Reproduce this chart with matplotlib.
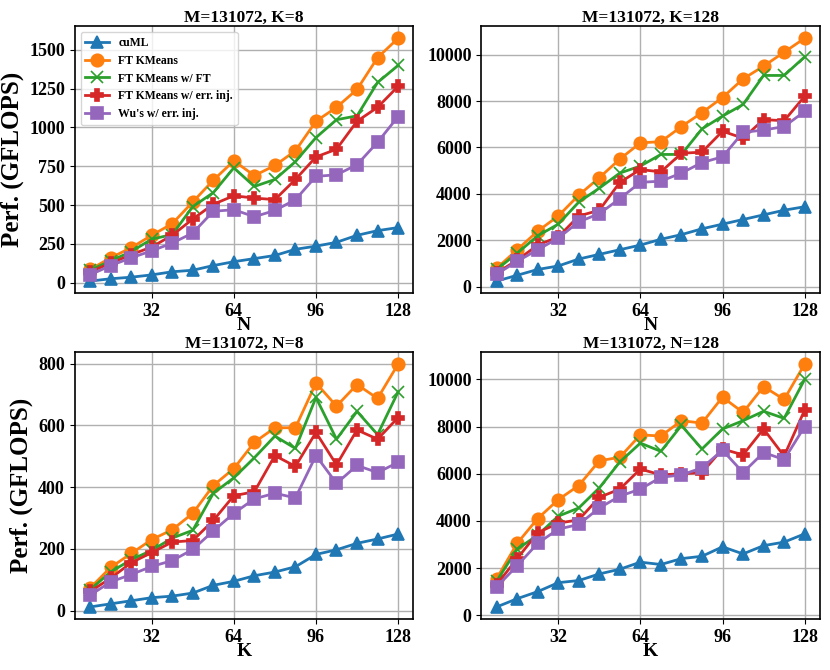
import matplotlib
matplotlib.use("Agg")
import matplotlib.pyplot as plt

plt.rcParams.update(
    {
        "font.family": ["Liberation Serif", "DejaVu Serif"],
        "font.weight": "bold",
        "axes.labelweight": "bold",
        "axes.titleweight": "bold",
        "xtick.labelsize": 13,
        "ytick.labelsize": 13,
    }
)

sizes = list(range(8, 129, 8))
labels = ["cuML", "FT KMeans", "FT KMeans w/ FT", "FT KMeans w/ err. inj.", "Wu's w/ err. inj."]
colors = ["#1f77b4", "#ff7f0e", "#2ca02c", "#d62728", "#9467bd"]
markers = ["^", "o", "x", "P", "s"]

# M=131072, K=8, varying N
k8_cuml = [10, 25, 35, 50, 70, 80, 110, 135, 155, 175, 215, 235, 260, 305, 335, 355]
k8_ft = [85, 160, 225, 305, 380, 520, 660, 785, 690, 755, 850, 1040, 1130, 1245, 1450, 1575]
k8_ftft = [80, 140, 200, 280, 310, 490, 580, 740, 620, 665, 780, 935, 1050, 1075, 1290, 1400]
k8_inj = [70, 125, 180, 230, 305, 410, 505, 560, 545, 535, 665, 810, 860, 1040, 1130, 1265]
k8_wu = [50, 110, 160, 205, 255, 320, 460, 470, 425, 465, 535, 685, 695, 760, 905, 1070]

# M=131072, K=128, varying N
k128_cuml = [250, 500, 750, 900, 1200, 1400, 1600, 1800, 2050, 2250, 2500, 2700, 2900, 3100, 3300, 3450]
k128_ft = [800, 1600, 2400, 3050, 3950, 4700, 5500, 6200, 6250, 6900, 7500, 8150, 8950, 9500, 10100, 10700]
k128_ftft = [750, 1450, 2200, 2700, 3650, 4250, 4900, 5200, 5700, 5700, 6800, 7350, 7850, 9100, 9100, 9900]
k128_inj = [600, 1150, 1800, 2150, 3050, 3300, 4500, 5050, 4950, 5750, 5800, 6700, 6400, 7200, 7150, 8200]
k128_wu = [550, 1100, 1600, 2100, 2800, 3150, 3800, 4500, 4550, 4900, 5350, 5600, 6650, 6750, 6900, 7550]

# M=131072, N=8, varying K
n8_cuml = [12, 22, 32, 42, 47, 57, 82, 95, 113, 125, 142, 182, 197, 218, 232, 248]
n8_ft = [73, 140, 185, 230, 262, 315, 405, 460, 545, 592, 592, 737, 662, 732, 687, 798]
n8_ftft = [68, 125, 165, 195, 235, 260, 380, 430, 495, 565, 525, 690, 555, 645, 570, 708]
n8_inj = [62, 105, 155, 188, 222, 227, 292, 372, 385, 502, 467, 577, 472, 585, 555, 625]
n8_wu = [50, 93, 117, 143, 162, 198, 258, 315, 362, 380, 365, 502, 412, 470, 447, 480]

# M=131072, N=128, varying K
n128_cuml = [350, 700, 1000, 1380, 1470, 1750, 1950, 2250, 2150, 2400, 2500, 2900, 2600, 2950, 3100, 3450]
n128_ft = [1550, 3050, 4100, 4900, 5500, 6550, 6700, 7650, 7600, 8250, 8150, 9250, 8600, 9700, 9150, 10650]
n128_ftft = [1450, 2800, 3400, 4200, 4550, 5400, 6500, 7300, 6950, 8050, 7050, 7900, 8250, 8650, 8350, 10000]
n128_inj = [1300, 2400, 3500, 3900, 4050, 5000, 5350, 6200, 5950, 6000, 6050, 7050, 6800, 7900, 6750, 8700]
n128_wu = [1200, 2100, 3050, 3650, 3850, 4550, 5050, 5350, 5850, 5950, 6250, 7000, 6050, 6900, 6600, 8000]

panels = [
    ("M=131072, K=8", "N", [k8_cuml, k8_ft, k8_ftft, k8_inj, k8_wu]),
    ("M=131072, K=128", "N", [k128_cuml, k128_ft, k128_ftft, k128_inj, k128_wu]),
    ("M=131072, N=8", "K", [n8_cuml, n8_ft, n8_ftft, n8_inj, n8_wu]),
    ("M=131072, N=128", "K", [n128_cuml, n128_ft, n128_ftft, n128_inj, n128_wu]),
]

fig, axes = plt.subplots(2, 2, figsize=(8.3, 6.7), dpi=100)
for idx, (ax, (title, xlab, series)) in enumerate(zip(axes.flat, panels)):
    for i, vals in enumerate(series):
        ax.plot(
            sizes,
            vals,
            marker=markers[i],
            color=colors[i],
            label=labels[i],
            linewidth=2,
            markersize=9 if markers[i] != "x" else 8,
            markeredgewidth=1.2,
        )
    ax.grid(True, color="#b0b0b0", linewidth=1)
    ax.set_xticks([32, 64, 96, 128])
    ax.set_title(title, fontsize=12.5, pad=3)
    ax.set_xlabel(xlab, fontsize=14, labelpad=-2)
    if idx % 2 == 0:
        ax.set_ylabel("Perf. (GFLOPS)", fontsize=18)
    if idx == 0:
        ax.legend(loc="upper left", prop={"weight": "bold", "size": 8.5})
    for sp in ax.spines.values():
        sp.set_linewidth(1.2)

fig.subplots_adjust(left=0.09, right=0.988, top=0.961, bottom=0.076, hspace=0.22, wspace=0.2)
fig.savefig("out.png", dpi=100)
